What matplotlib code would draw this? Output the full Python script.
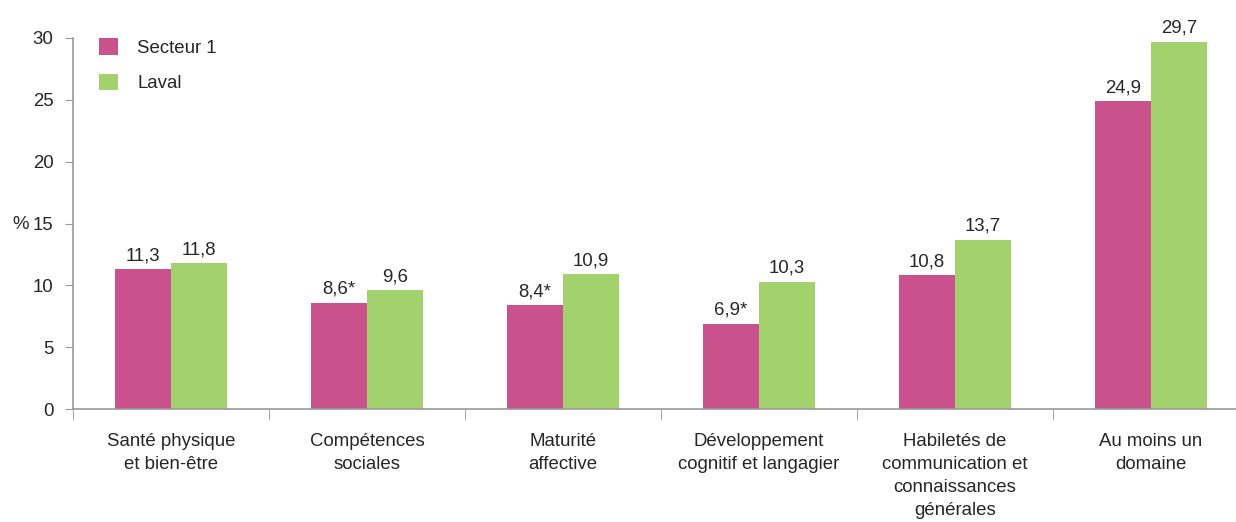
import matplotlib
matplotlib.use('Agg')
import matplotlib.pyplot as plt
import numpy as np

categories = ['Santé physique\net bien-être', 'Compétences\nsociales', 'Maturité\naffective',
              'Développement\ncognitif et langagier', 'Habiletés de\ncommunication et\nconnaissances\ngénérales',
              'Au moins un\ndomaine']
secteur = [11.3, 8.6, 8.4, 6.9, 10.8, 24.9]
laval = [11.8, 9.6, 10.9, 10.3, 13.7, 29.7]
secteur_labels = ['11,3', '8,6*', '8,4*', '6,9*', '10,8', '24,9']
laval_labels = ['11,8', '9,6', '10,9', '10,3', '13,7', '29,7']

pink = '#C9528D'
green = '#A3D16D'
txt = '#262626'
axc = '#9a9a9a'

plt.rcParams['font.family'] = ['Liberation Sans', 'DejaVu Sans']
plt.rcParams['font.size'] = 13.4

fig = plt.figure(figsize=(12.36, 5.22), dpi=100)
ax = fig.add_axes([73/1236, 113/522, 1163/1236, 371/522])

x = np.arange(len(categories))
w = 0.286
b1 = ax.bar(x - w/2, secteur, w, color=pink, label='Secteur 1')
b2 = ax.bar(x + w/2, laval, w, color=green, label='Laval')

for rect, lab in zip(b1, secteur_labels):
    ax.text(rect.get_x() + rect.get_width()/2, rect.get_height() + 0.4, lab,
            ha='center', va='bottom', color=txt)
for rect, lab in zip(b2, laval_labels):
    ax.text(rect.get_x() + rect.get_width()/2, rect.get_height() + 0.4, lab,
            ha='center', va='bottom', color=txt)

ax.set_xlim(-0.5, 5.434)
ax.set_ylim(0, 30)
ax.set_yticks(np.arange(0, 31, 5))
ax.set_xticks(x)
ax.set_xticklabels(categories, color=txt, linespacing=1.48, va='top')
ax.set_xticks(np.arange(-0.5, 5.5, 1), minor=True)
ax.tick_params(axis='x', which='major', length=0, pad=17)
ax.tick_params(axis='x', which='minor', length=8, color=axc, direction='out')
ax.tick_params(axis='y', length=6, color=axc, colors=txt, pad=8)

for s in ['top', 'right']:
    ax.spines[s].set_visible(False)
for s in ['left', 'bottom']:
    ax.spines[s].set_color(axc)
    ax.spines[s].set_linewidth(1.2)

fig.text(12/1236, 1 - 224/522, '%', color=txt, va='center', ha='left')

ax.legend(loc='upper left', bbox_to_anchor=(0.008, 1.045), frameon=False,
          handlelength=1.0, handleheight=1.0, handletextpad=1.05, labelspacing=0.9,
          labelcolor=txt)

plt.savefig('out.png', dpi=100)
